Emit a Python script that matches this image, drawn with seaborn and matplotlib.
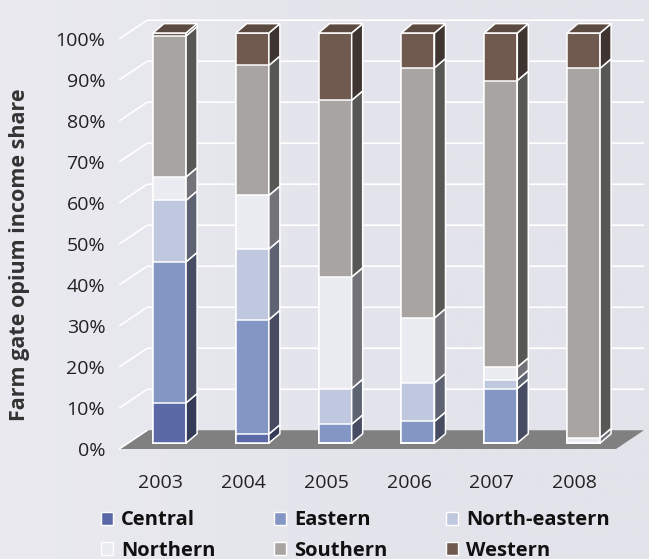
import numpy as np
import pandas as pd
import seaborn as sns
import matplotlib
matplotlib.use("Agg")
import matplotlib.pyplot as plt
from matplotlib.patches import Polygon, Rectangle
from matplotlib.colors import LinearSegmentedColormap

# ---- data: farm gate opium income share by region (%) ----
years = ["2003", "2004", "2005", "2006", "2007", "2008"]
central = [9.8, 2.2, 0.0, 0.0, 0.0, 0.0]
eastern = [34.4, 27.9, 4.6, 5.3, 13.3, 0.0]
north_eastern = [15.0, 17.2, 8.7, 9.4, 2.2, 0.0]
northern = [5.7, 13.1, 27.2, 15.8, 3.0, 1.3]
southern = [34.4, 31.7, 43.1, 61.0, 69.9, 90.1]
western = [0.7, 7.9, 16.4, 8.5, 11.6, 8.6]

regions = ["Central", "Eastern", "North-eastern", "Northern", "Southern", "Western"]
series = [central, eastern, north_eastern, northern, southern, western]
front_colors = ["#5b6aa6", "#8497c4", "#c0c8e0", "#ebebf2", "#a8a4a2", "#705a50"]
side_colors = ["#333b58", "#474c63", "#5e6372", "#737278", "#575755", "#3e3430"]
top_colors = ["#404a70", "#5d6a8c", "#8c93a8", "#a0a0a8", "#7a7775", "#5a4a40"]

bg = "#e4e4ec"
sns.set_theme(style="white", rc={"figure.facecolor": bg, "axes.facecolor": bg})
plt.rcParams["font.family"] = ["Open Sans", "DejaVu Sans"]

fig = plt.figure(figsize=(6.49, 5.59), dpi=100)

# soft left-to-right background shading
bg_ax = fig.add_axes([0, 0, 1, 1], zorder=-5)
shade = LinearSegmentedColormap.from_list("shade", ["#eaeaf0", "#e6e6ed", "#e3e3eb", "#e3e3eb"])
bg_ax.imshow(np.linspace(0, 1, 256)[None, :], aspect="auto", cmap=shade, extent=(0, 1, 0, 1))
bg_ax.set_axis_off()

ax = fig.add_axes([0.1974, 0.19678, 0.7655, 0.74419])
ax.patch.set_alpha(0)

# depth geometry (data units): bar depth, front plane offset, full box depth
bx, by = 0.133, 2.28
fx, fy = -0.1075, -1.44
dx, dy = 0.338, 4.57
bw = 0.4
lw = 1.1

# ---- gridlines on walls, and floor ----
x0f, x1f = -0.5 + fx, 5.5 + fx
for v in range(10, 101, 10):
    ax.plot([x0f, x0f + dx, x1f + dx], [v + fy, v + fy + dy, v + fy + dy],
            color="white", lw=1.2, zorder=1, clip_on=False, solid_capstyle="butt")
floor = Polygon([(x0f, fy), (x1f, fy), (x1f + dx, fy + dy), (x0f + dx, fy + dy)],
                closed=True, facecolor="#808080", edgecolor="none", zorder=1, clip_on=False)
ax.add_patch(floor)
ax.plot([x0f, x0f + dx], [fy, fy + dy], color="white", lw=1.2, zorder=1, clip_on=False)

# ---- stacked bars: front faces via seaborn (cumulative overlay) ----
vals = np.array(series)
cum = np.cumsum(vals, axis=0)
for k in range(len(series) - 1, -1, -1):
    sns.barplot(x=years, y=cum[k], order=years, color=front_colors[k], saturation=1,
                width=bw, edgecolor="white", linewidth=lw, errorbar=None, ax=ax, zorder=3)

# side and top faces
for i in range(len(years)):
    xr = i + bw / 2
    xl = i - bw / 2
    top_k = None
    for k in range(len(series)):
        b0 = cum[k][i] - vals[k][i]
        b1 = cum[k][i]
        if vals[k][i] <= 0:
            continue
        top_k = k
        ax.add_patch(Polygon([(xr, b0), (xr + bx, b0 + by), (xr + bx, b1 + by), (xr, b1)],
                             closed=True, facecolor=side_colors[k], edgecolor="white",
                             lw=lw, zorder=3, clip_on=False))
    t = cum[-1][i]
    ax.add_patch(Polygon([(xl, t), (xl + bx, t + by), (xr + bx, t + by), (xr, t)],
                         closed=True, facecolor=top_colors[top_k], edgecolor="white",
                         lw=lw, zorder=3, clip_on=False))

# ---- axes ----
ax.set_xlim(-0.5, 5.5)
ax.set_ylim(0, 100)
for s in ax.spines.values():
    s.set_visible(False)
ax.set_yticks(np.arange(0, 101, 10) + fy)
ax.set_yticklabels([f"{v}%" for v in range(0, 101, 10)])
ax.set_xticks(np.arange(len(years)) + fx)
ax.set_xticklabels(years)
ax.tick_params(axis="y", length=0, pad=16.5, labelsize=14, labelcolor="#222222")
ax.tick_params(axis="x", length=0, pad=18, labelsize=14, labelcolor="#222222")
ax.set_xlabel("")
ax.set_ylabel("")
fig.text(20 / 649, 1 - 254.5 / 559, "Farm gate opium income share", rotation=90,
         ha="center", va="center", fontsize=15.5, fontweight="bold", color="#333333")

# ---- legend (row-wise order across three columns) ----
handles = [Rectangle((0, 0), 1, 1, facecolor=c, edgecolor="white", lw=1.0) for c in front_colors]
order = [0, 3, 1, 4, 2, 5]
fig.legend([handles[j] for j in order], [regions[j] for j in order], ncol=3, loc="center left",
           bbox_to_anchor=(101 / 649, 1 - 535.5 / 559), frameon=False,
           borderpad=0, borderaxespad=0, handlelength=0.6, handleheight=0.6,
           handletextpad=0.4, columnspacing=2.9, labelspacing=0.5,
           prop={"size": 14.5, "weight": "bold"}, labelcolor="#111111")

fig.savefig("out.png", dpi=100, facecolor=bg)
